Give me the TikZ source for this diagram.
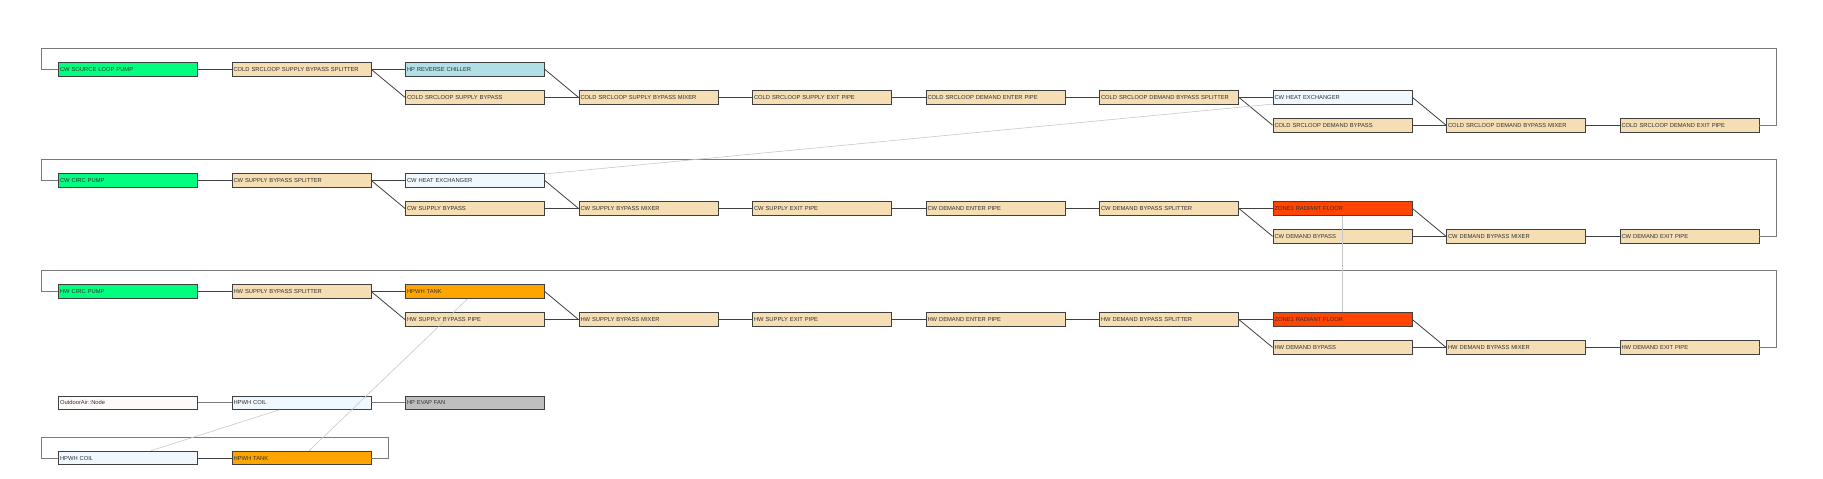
\documentclass[tikz,border=0pt]{standalone}
\usepackage{fontspec}
\setmainfont{Liberation Sans}
\definecolor{springg}{HTML}{00FF7F}
\definecolor{wheatc}{HTML}{F5DEB3}
\definecolor{powderb}{HTML}{B0E0E6}
\definecolor{aliceb}{HTML}{F0F8FF}
\definecolor{oranger}{HTML}{FF4500}
\definecolor{orangec}{HTML}{FFA500}
\definecolor{snowc}{HTML}{FFFAFA}
\definecolor{greyc}{HTML}{BEBEBE}
\definecolor{edgec}{HTML}{404040}
\definecolor{txtc}{HTML}{303030}
\definecolor{loopc}{HTML}{7A7A7A}
\definecolor{linkc}{HTML}{C8C8C8}
\tikzset{
  eq/.style={draw=edgec, line width=0.9pt, rectangle, minimum height=13.7pt,
    text width=136pt, align=left, inner xsep=1.5pt, inner ysep=0pt,
    font=\fontsize{5.8}{6}\selectfont, text=txtc, fill=wheatc},
  pump/.style={eq, fill=springg},
  chil/.style={eq, fill=powderb},
  hx/.style={eq, fill=aliceb},
  zone/.style={eq, fill=oranger},
  tank/.style={eq, fill=orangec},
  oanode/.style={eq, fill=snowc},
  fan/.style={eq, fill=greyc},
  conn/.style={draw=edgec, line width=0.8pt},
  lightconn/.style={draw=loopc, line width=1pt},
  loopline/.style={draw=loopc, line width=0.9pt},
  link/.style={draw=linkc, line width=0.6pt}
}
\begin{document}
\begin{tikzpicture}[x=1pt,y=-1pt]
\fill[white] (0,0) rectangle (1823,479);
\useasboundingbox (0,0) rectangle (1823,479);
% ---------- Loop 1: cold source loop ----------
\node[pump] (a0) at (128,69.5) {CW SOURCE LOOP PUMP};
\node[eq] (a1) at (301.5,69.5) {COLD SRCLOOP SUPPLY BYPASS SPLITTER};
\node[chil] (a2) at (475,69.5) {HP REVERSE CHILLER};
\node[eq] (a2b) at (475,97.4) {COLD SRCLOOP SUPPLY BYPASS};
\node[eq] (a3) at (648.5,97.4) {COLD SRCLOOP SUPPLY BYPASS MIXER};
\node[eq] (a4) at (822,97.4) {COLD SRCLOOP SUPPLY EXIT PIPE};
\node[eq] (a5) at (995.5,97.4) {COLD SRCLOOP DEMAND ENTER PIPE};
\node[eq] (a6) at (1169,97.4) {COLD SRCLOOP DEMAND BYPASS SPLITTER};
\node[hx] (a7) at (1342.5,97.4) {CW HEAT EXCHANGER};
\node[eq] (a7b) at (1342.5,125.2) {COLD SRCLOOP DEMAND BYPASS};
\node[eq] (a8) at (1516,125.2) {COLD SRCLOOP DEMAND BYPASS MIXER};
\node[eq] (a9) at (1689.5,125.2) {COLD SRCLOOP DEMAND EXIT PIPE};
% ---------- Loop 2: chilled water ----------
\node[pump] (b0) at (128,180.6) {CW CIRC PUMP};
\node[eq] (b1) at (301.5,180.6) {CW SUPPLY BYPASS SPLITTER};
\node[hx] (b2) at (475,180.6) {CW HEAT EXCHANGER};
\node[eq] (b2b) at (475,208.5) {CW SUPPLY BYPASS};
\node[eq] (b3) at (648.5,208.5) {CW SUPPLY BYPASS MIXER};
\node[eq] (b4) at (822,208.5) {CW SUPPLY EXIT PIPE};
\node[eq] (b5) at (995.5,208.5) {CW DEMAND ENTER PIPE};
\node[eq] (b6) at (1169,208.5) {CW DEMAND BYPASS SPLITTER};
\node[zone] (b7) at (1342.5,208.5) {ZONE1 RADIANT FLOOR};
\node[eq] (b7b) at (1342.5,236.3) {CW DEMAND BYPASS};
\node[eq] (b8) at (1516,236.3) {CW DEMAND BYPASS MIXER};
\node[eq] (b9) at (1689.5,236.3) {CW DEMAND EXIT PIPE};
% ---------- Loop 3: hot water ----------
\node[pump] (c0) at (128,291.7) {HW CIRC PUMP};
\node[eq] (c1) at (301.5,291.7) {HW SUPPLY BYPASS SPLITTER};
\node[tank] (c2) at (475,291.7) {HPWH TANK};
\node[eq] (c2b) at (475,319.6) {HW SUPPLY BYPASS PIPE};
\node[eq] (c3) at (648.5,319.6) {HW SUPPLY BYPASS MIXER};
\node[eq] (c4) at (822,319.6) {HW SUPPLY EXIT PIPE};
\node[eq] (c5) at (995.5,319.6) {HW DEMAND ENTER PIPE};
\node[eq] (c6) at (1169,319.6) {HW DEMAND BYPASS SPLITTER};
\node[zone] (c7) at (1342.5,319.6) {ZONE1 RADIANT FLOOR};
\node[eq] (c7b) at (1342.5,347.4) {HW DEMAND BYPASS};
\node[eq] (c8) at (1516,347.4) {HW DEMAND BYPASS MIXER};
\node[eq] (c9) at (1689.5,347.4) {HW DEMAND EXIT PIPE};
% ---------- Air side ----------
\node[oanode] (d0) at (128,402.8) {OutdoorAir::Node};
\node[hx] (d1) at (301.5,402.8) {HPWH COIL};
\node[fan] (d2) at (475,402.8) {HP EVAP FAN};
% ---------- Loop 5: HPWH ----------
\node[hx] (e0) at (128,458) {HPWH COIL};
\node[tank] (e1) at (301.5,458) {HPWH TANK};
% ---------- loop corners ----------
\coordinate (a-tl) at (41.5,48.5); \coordinate (a-tr) at (1776,48.5);
\coordinate (b-tl) at (41.5,159.6); \coordinate (b-tr) at (1776,159.6);
\coordinate (c-tl) at (41.5,270.7); \coordinate (c-tr) at (1776,270.7);
\coordinate (e-tl) at (41.5,437.5); \coordinate (e-tr) at (388.6,437.5);
% ---------- loops ----------
\draw[loopline] (a9.east) -| (a-tr) -- (a-tl) |- (a0.west);
\draw[loopline] (b9.east) -| (b-tr) -- (b-tl) |- (b0.west);
\draw[loopline] (c9.east) -| (c-tr) -- (c-tl) |- (c0.west);
\draw[loopline] (e1.east) -| (e-tr) -- (e-tl) |- (e0.west);
% ---------- connectors ----------
\foreach \p in {a,b,c}{
  \draw[conn] (\p0) -- (\p1);
  \draw[conn] (\p1.east) -- (\p2.west);
  \draw[conn] (\p1.east) -- (\p2b.west);
  \draw[conn] (\p2.east) -- (\p3.west);
  \draw[conn] (\p2b.east) -- (\p3.west);
  \draw[conn] (\p3) -- (\p4);
  \draw[conn] (\p4) -- (\p5);
  \draw[conn] (\p5) -- (\p6);
  \draw[conn] (\p6.east) -- (\p7.west);
  \draw[conn] (\p6.east) -- (\p7b.west);
  \draw[conn] (\p7.east) -- (\p8.west);
  \draw[conn] (\p7b.east) -- (\p8.west);
  \draw[conn] (\p8) -- (\p9);
}
\draw[lightconn] (d0) -- (d1);
\draw[lightconn] (d1) -- (d2);
\draw[conn] (e0) -- (e1);
% ---------- links between same components ----------
\draw[link] (a7) -- (b2);
\draw[link] (b7) -- (c7);
\draw[link] (c2) -- (e1);
\draw[link] (d1) -- (e0);
\end{tikzpicture}
\end{document}
